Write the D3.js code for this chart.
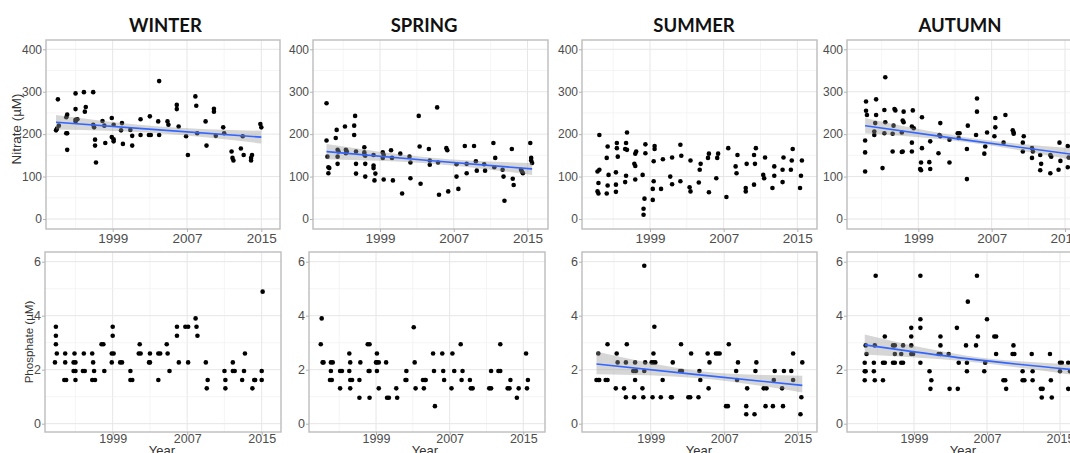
<!DOCTYPE html>
<html>
<head>
<meta charset="utf-8">
<script src="https://cdn.jsdelivr.net/npm/d3@7"></script>
<style>
body { margin: 0; background: #fff; }
svg { display: block; font-family: "Liberation Sans", Arial, sans-serif; }
</style>
</head>
<body>
<svg width="1070" height="453"></svg>
<script>
// ---- data ----
let seasons = ["WINTER", "SPRING", "SUMMER", "AUTUMN"];
let yearTicks = [1999, 2007, 2015];
let yearMinor = [1995, 2003, 2011];
let nitrateTicks = [0, 100, 200, 300, 400];
let nitrateMinor = [50, 150, 250, 350];
let phosphateTicks = [0, 2, 4, 6];
let phosphateMinor = [1, 3, 5];

// [year, nitrate µM]
let winterNitrate = [
  [1993.1,282],[1992.9,209],[1993.0,213],[1993.2,220],
  [1994.0,240],[1994.1,246],[1994.0,202],[1994.1,202],[1994.1,163],
  [1995.0,296],[1995.0,259],[1995.0,234],[1995.2,235],[1995.0,230],
  [1995.9,299],[1996.1,264],[1996.0,253],
  [1996.9,299],[1996.9,222],[1997.0,216],[1997.1,187],[1997.1,173],[1997.2,133],
  [1997.9,231],[1998.1,220],[1998.2,179],
  [1998.9,238],[1999.1,222],[1998.9,193],[1999.1,188],[1999.1,183],
  [2000.0,226],[1999.9,209],[2000.1,177],
  [2000.9,210],[2001.1,196],[2001.1,173],
  [2002.0,235],[2002.0,198],
  [2003.0,242],[2002.9,198],[2003.1,198],
  [2004.0,325],[2003.9,230],[2004.0,198],
  [2004.9,230],[2005.0,222],
  [2005.9,269],[2005.9,259],[2006.1,218],
  [2006.9,195],[2007.1,151],
  [2007.9,289],[2008.0,267],[2008.1,202],
  [2009.0,230],[2009.1,173],
  [2009.9,260],[2009.9,253],[2010.1,196],
  [2010.9,216],[2011.0,202],
  [2011.8,159],[2011.9,144],[2012.0,138],
  [2012.8,166],[2013.0,195],[2013.1,151],
  [2014.0,151],[2013.9,144],[2013.9,138],
  [2014.9,224],[2015.0,216]
];
let springNitrate = [
  [1993.2,273],[1993.2,185],[1993.3,147],[1993.4,122],[1993.5,120],[1993.4,108],
  [1994.2,191],[1994.3,210],[1994.4,163],[1994.4,147],[1994.4,130],[1994.5,159],
  [1995.2,218],[1995.3,163],[1995.3,155],[1995.4,159],
  [1996.3,243],[1996.2,220],[1996.2,198],[1996.4,159],[1996.4,130],[1996.4,107],
  [1997.3,169],[1997.3,157],[1997.4,149],[1997.4,130],[1997.4,100],[1997.3,152],
  [1998.3,151],[1998.3,126],[1998.3,120],[1998.5,107],[1998.4,91],
  [1999.3,157],[1999.4,151],[1999.3,144],[1999.4,93],
  [2000.2,162],[2000.3,144],[2000.4,91],
  [2001.2,154],[2001.4,60],
  [2002.2,147],[2002.3,133],[2002.3,96],
  [2003.2,243],[2003.3,171],[2003.4,83],
  [2004.3,165],[2004.4,138],[2004.4,128],
  [2005.2,263],[2005.3,133],[2005.4,57],
  [2006.2,167],[2006.3,162],[2006.4,65],
  [2007.3,129],[2007.3,100],[2007.5,71],
  [2008.2,172],[2008.4,130],[2008.4,108],
  [2009.2,172],[2009.4,136],[2009.5,114],
  [2010.3,129],[2010.4,114],
  [2011.3,179],[2011.5,144],[2011.4,122],
  [2012.3,116],[2012.4,100],[2012.5,43],
  [2013.3,165],[2013.4,95],[2013.5,80],
  [2014.3,116],[2014.4,112],[2014.5,108],
  [2015.3,179],[2015.4,144],[2015.4,138],[2015.5,132]
];
let summerNitrate = [
  [1993.5,198],[1993.3,112],[1993.5,116],[1993.4,85],[1993.3,65],[1993.4,60],
  [1994.4,171],[1994.3,144],[1994.5,104],[1994.4,79],[1994.3,60],
  [1995.4,179],[1995.4,167],[1995.5,147],[1995.3,110],[1995.3,81],[1995.3,64],
  [1996.5,204],[1996.4,179],[1996.3,165],[1996.5,163],[1996.4,102],[1996.3,87],
  [1997.5,159],[1997.4,154],[1997.3,130],[1997.4,125],[1997.4,93],
  [1998.5,176],[1998.5,155],[1998.2,104],[1998.4,48],[1998.3,24],[1998.3,10],
  [1999.5,172],[1999.5,165],[1999.4,136],[1999.4,89],[1999.3,71],[1999.3,45],
  [2000.4,141],[2000.2,71],
  [2001.4,145],[2001.2,100],[2001.4,82],
  [2002.3,175],[2002.4,149],[2002.3,89],
  [2003.4,138],[2003.3,75],[2003.4,65],
  [2004.5,130],[2004.4,116],[2004.3,86],
  [2005.4,154],[2005.3,144],[2005.4,63],
  [2006.4,154],[2006.3,144],[2006.2,96],
  [2007.5,167],[2007.3,52],
  [2008.5,151],[2008.3,124],[2008.4,108],
  [2009.5,130],[2009.4,73],[2009.4,65],
  [2010.5,167],[2010.3,151],[2010.4,130],[2010.3,81],
  [2011.5,145],[2011.3,104],[2011.4,96],
  [2012.5,124],[2012.5,102],[2012.3,73],
  [2013.5,145],[2013.4,116],[2013.4,87],
  [2014.5,165],[2014.4,138],[2014.3,116],
  [2015.5,138],[2015.4,102],[2015.3,73]
];
let autumnNitrate = [
  [1993.3,277],[1993.3,255],[1993.4,245],[1993.2,185],[1993.2,157],[1993.2,112],
  [1994.4,282],[1994.4,245],[1994.3,226],[1994.2,206],[1994.2,198],
  [1995.4,334],[1995.3,257],[1995.4,228],[1995.3,202],[1995.1,120],
  [1996.4,259],[1996.5,256],[1996.3,220],[1996.2,201],[1996.2,159],
  [1997.4,253],[1997.3,232],[1997.4,228],[1997.2,204],[1997.3,159],[1997.2,158],
  [1998.4,256],[1998.3,218],[1998.5,214],[1998.3,180],[1998.3,159],
  [1999.4,240],[1999.4,167],[1999.3,133],[1999.3,115],[1999.2,118],
  [2000.3,183],[2000.2,134],[2000.3,118],
  [2001.4,226],[2001.3,198],[2001.4,195],[2001.2,155],
  [2002.4,187],[2002.4,133],
  [2003.3,202],[2003.5,202],[2003.4,191],
  [2004.4,220],[2004.3,165],[2004.3,94],
  [2005.4,284],[2005.4,253],[2005.3,198],
  [2006.5,204],[2006.3,171],[2006.2,154],
  [2007.4,238],[2007.4,216],[2007.3,195],
  [2008.5,245],[2008.3,180],
  [2009.3,209],[2009.4,204],[2009.4,201],
  [2010.5,195],[2010.4,180],[2010.4,159],
  [2011.4,167],[2011.5,159],[2011.4,144],
  [2012.3,151],[2012.4,130],[2012.3,115],
  [2013.4,151],[2013.5,147],[2013.4,108],
  [2014.4,180],[2014.5,137],[2014.3,116],
  [2015.3,172],[2015.4,145],[2015.3,122]
];

// [year, phosphate µM]
let winterPhosphate = [
  [1992.8,2.27],[1992.9,3.59],[1992.9,3.26],[1992.9,2.94],[1993.0,2.6],
  [1993.9,2.6],[1993.9,2.27],[1993.8,1.62],[1994.0,1.62],
  [1994.9,2.6],[1994.8,2.27],[1995.0,2.27],[1994.8,1.95],[1995.0,1.95],[1995.0,1.62],
  [1995.8,1.95],[1996.0,1.95],[1995.9,2.6],
  [1996.8,2.6],[1996.9,2.27],[1997.0,1.95],[1996.8,1.62],[1997.1,1.62],
  [1997.8,2.94],[1998.0,2.94],[1998.1,1.95],
  [1999.0,3.59],[1999.0,3.26],[1998.9,2.6],[1999.1,2.6],[1998.9,2.27],
  [1999.8,2.27],[2000.0,2.27],
  [2000.9,1.95],[2000.9,1.62],[2001.1,1.62],
  [2001.9,2.94],[2001.8,2.6],[2002.0,2.6],
  [2002.9,2.27],[2003.0,2.27],[2003.0,2.6],
  [2003.9,2.6],[2004.1,2.6],[2003.9,1.62],
  [2004.8,2.94],[2004.9,2.6],[2005.1,1.95],
  [2005.9,3.59],[2005.9,3.26],[2006.1,2.27],
  [2006.8,3.59],[2007.1,3.59],[2007.1,2.27],
  [2007.9,3.9],[2008.0,3.59],[2008.1,3.26],
  [2009.0,2.27],[2009.2,1.62],[2009.1,1.31],
  [2011.0,1.95],[2011.1,1.62],[2011.1,1.31],
  [2011.9,2.27],[2011.9,1.95],[2012.1,1.95],
  [2013.2,2.6],[2013.1,1.95],[2012.9,1.62],
  [2014.2,1.62],[2014.3,1.62],[2014.0,1.31],
  [2015.1,4.89],[2015.0,1.95],[2015.0,1.62]
];
let springPhosphate = [
  [1993.1,3.9],[1993.0,2.94],[1993.2,2.27],[1993.3,2.27],
  [1994.1,2.27],[1994.3,2.27],[1994.1,1.95],[1994.0,1.62],[1994.2,1.62],
  [1995.1,1.95],[1995.3,1.95],[1995.1,1.31],
  [1996.1,2.6],[1996.2,2.27],[1996.1,1.95],[1996.2,1.62],[1996.4,1.62],[1996.2,1.31],
  [1997.3,2.27],[1997.2,1.62],[1997.2,0.96],
  [1998.1,2.94],[1998.3,2.94],[1998.2,1.95],[1998.3,1.95],[1998.3,0.96],
  [1999.1,2.6],[1999.0,2.27],[1999.1,2.27],[1999.3,2.27],[1999.1,1.95],[1999.3,1.31],
  [2000.1,2.27],[2000.2,0.96],[2000.4,0.96],
  [2001.2,1.31],[2001.3,0.96],
  [2002.2,1.62],[2002.3,1.62],[2002.3,1.95],
  [2003.1,3.57],[2003.2,2.27],[2003.3,1.31],
  [2004.1,1.62],[2004.3,1.62],[2004.4,1.62],[2004.2,1.31],
  [2005.2,2.6],[2005.3,1.95],[2005.4,0.65],
  [2006.2,2.6],[2006.3,1.95],[2006.4,1.62],
  [2007.3,2.6],[2007.5,1.95],[2007.2,1.31],
  [2008.2,2.94],[2008.4,1.95],[2008.3,1.62],
  [2009.2,1.62],[2009.3,1.31],[2009.5,1.31],
  [2011.5,1.95],[2011.3,1.31],[2011.5,1.31],
  [2012.5,2.94],[2012.3,1.95],[2012.5,1.95],
  [2013.6,1.62],[2013.3,1.31],[2013.5,1.31],
  [2014.3,0.96],[2014.5,1.31],
  [2015.3,2.6],[2015.5,1.62],[2015.4,1.31]
];
let summerPhosphate = [
  [1993.3,2.6],[1993.1,1.62],[1993.3,1.62],[1993.4,1.62],
  [1994.3,2.94],[1994.1,1.62],[1994.3,1.62],
  [1995.3,2.6],[1995.4,2.27],[1995.2,1.31],
  [1996.4,2.94],[1996.3,2.27],[1996.1,1.31],[1996.3,0.98],
  [1997.3,2.27],[1997.1,1.95],[1997.3,1.95],[1997.4,1.95],[1997.3,1.62],[1997.2,0.98],
  [1998.3,5.85],[1998.4,2.27],[1998.3,1.95],[1998.1,1.31],[1998.2,0.98],
  [1999.4,3.59],[1999.3,2.6],[1999.1,2.27],[1999.3,2.27],[1999.5,2.27],[1999.2,0.98],
  [2000.3,1.62],[2000.1,0.98],
  [2001.4,2.27],[2001.2,0.98],[2001.3,0.98],
  [2002.3,2.94],[2002.2,1.95],[2002.4,1.95],
  [2003.4,2.6],[2003.1,0.98],[2003.3,0.98],
  [2004.3,1.95],[2004.4,1.62],[2004.2,0.98],
  [2005.2,2.6],[2005.4,2.27],[2005.3,1.31],
  [2006.1,2.6],[2006.3,2.6],[2006.5,2.6],
  [2007.5,2.94],[2007.2,0.65],[2007.4,0.65],
  [2008.5,2.27],[2008.3,1.95],[2008.4,1.62],
  [2009.5,1.31],[2009.4,0.65],[2009.4,0.35],
  [2010.5,2.27],[2010.4,1.95],[2010.3,0.35],
  [2011.3,1.31],[2011.6,1.31],[2011.5,0.65],
  [2012.5,1.95],[2012.4,1.62],[2012.3,0.65],
  [2013.5,1.95],[2013.3,1.31],[2013.4,0.65],
  [2014.5,2.6],[2014.3,1.95],[2014.5,1.62],
  [2015.5,2.27],[2015.4,0.98],[2015.3,0.35]
];
let autumnPhosphate = [
  [1993.7,2.9],[1993.8,2.58],[1993.6,2.26],[1993.6,1.94],[1993.7,1.94],[1993.6,1.61],
  [1994.8,5.48],[1994.7,2.9],[1994.6,2.26],[1994.6,1.94],[1994.7,1.61],
  [1995.8,3.23],[1995.6,2.26],[1995.8,2.26],[1995.6,1.61],
  [1996.7,2.9],[1996.9,2.9],[1996.9,2.58],[1996.7,2.26],[1996.9,2.26],
  [1997.8,2.9],[1997.6,2.58],[1997.6,2.26],[1997.8,2.26],
  [1998.7,3.55],[1998.7,3.23],[1998.7,2.9],[1998.7,2.58],[1998.9,2.58],
  [1999.7,5.48],[1999.7,3.87],[1999.7,3.55],[1999.7,2.26],
  [2000.7,1.94],[2000.9,1.61],[2000.8,1.29],
  [2001.9,3.23],[2001.9,2.9],[2001.7,2.58],[2001.9,2.58],
  [2002.8,2.58],[2002.9,1.29],
  [2003.7,3.55],[2003.9,2.26],[2003.8,1.29],
  [2004.9,4.52],[2004.7,2.9],[2004.8,2.26],[2004.8,1.94],
  [2005.9,5.48],[2006.0,3.23],[2005.8,2.9],
  [2007.0,3.87],[2006.8,2.26],[2006.7,1.94],
  [2007.8,3.23],[2008.0,3.23],[2008.0,2.58],
  [2008.8,1.61],[2009.0,1.61],[2009.1,1.29],
  [2009.9,2.9],[2009.8,2.58],[2010.0,2.58],
  [2010.9,1.94],[2010.9,1.61],[2011.1,1.61],
  [2011.9,2.58],[2012.0,1.94],[2012.0,1.61],
  [2012.9,1.29],[2013.1,1.29],[2013.0,0.97],
  [2013.9,2.58],[2014.0,1.61],[2014.1,0.97],
  [2015.0,2.26],[2015.2,2.26],[2015.0,1.94],
  [2015.9,2.26],[2016.1,1.94],[2015.9,1.29]
];

// fitted trend with confidence band: [year, fit, lower, upper]
let winterNitrateTrend = [[1992.9,228,211,245],[2004,210,202,218],[2015,193,178,208]];
let springNitrateTrend = [[1993.2,159,141,177],[2004.3,138,131,145],[2015.5,118,104,132]];
let autumnNitrateTrend = [[1993.2,220,202,238],[2004.3,186,181,192],[2015.6,153,140,167]];
let summerPhosphateTrend = [[1993.1,2.21,1.83,2.67],[2004.3,1.81,1.68,1.95],[2015.5,1.42,1.16,1.78]];
let autumnPhosphateTrend = [[1993.6,2.92,2.56,3.3],[2004.8,2.41,2.3,2.52],[2016.1,2.01,1.82,2.2]];

// ---- layout ----
let svg = d3.select('svg');

let rows = [
  { top: 40, bottom: 229, yRange: [219, 49.3], domain: [0, 400], ticks: nitrateTicks, minor: nitrateMinor,
    yFont: 12, xFont: 13.5, xPad: 1 },
  { top: 252, bottom: 432, yRange: [423.7, 261.7], domain: [0, 6], ticks: phosphateTicks, minor: phosphateMinor,
    yFont: 12.5, xFont: 12.5, xPad: -0.5 }
];

let panels = [
  { row: 0, left: 46,  right: 280,  x0: 112.7, x1: 261.3, pts: winterNitrate, trend: winterNitrateTrend },
  { row: 0, left: 313, right: 548,  x0: 380,   x1: 527.5, pts: springNitrate, trend: springNitrateTrend },
  { row: 0, left: 582, right: 817,  x0: 650,   x1: 797.3, pts: summerNitrate, trend: null },
  { row: 0, left: 847, right: 1085, x0: 918.3, x1: 1065,  pts: autumnNitrate, trend: autumnNitrateTrend },
  { row: 1, left: 45,  right: 281,  x0: 112.7, x1: 261.7, pts: winterPhosphate, trend: null },
  { row: 1, left: 309, right: 545,  x0: 376,   x1: 523.3, pts: springPhosphate, trend: null },
  { row: 1, left: 582, right: 817,  x0: 650.7, x1: 797.7, pts: summerPhosphate, trend: summerPhosphateTrend },
  { row: 1, left: 847, right: 1085, x0: 914,   x1: 1060,  pts: autumnPhosphate, trend: autumnPhosphateTrend }
];

let titleX = [165.5, 424, 694, 960];
let yearLabelX = [162, 425, 699, 963];

let drawPanel = (p) => {
  let r = rows[p.row];
  let xScale = d3.scaleLinear().domain([1999, 2015]).range([p.x0, p.x1]);
  let yScale = d3.scaleLinear().domain(r.domain).range(r.yRange);
  let g = svg.append('g');

  g.append('rect')
    .attr('x', p.left).attr('y', r.top)
    .attr('width', p.right - p.left).attr('height', r.bottom - r.top)
    .attr('fill', '#fff');

  // grid
  let inX = yearMinor.concat(yearTicks).filter(v => xScale(v) > p.left && xScale(v) < p.right);
  g.selectAll('.vgrid')
    .data(inX)
    .enter()
    .append('line')
    .attr('x1', d => xScale(d)).attr('x2', d => xScale(d))
    .attr('y1', r.top).attr('y2', r.bottom)
    .attr('stroke', d => yearTicks.includes(d) ? '#e6e6e6' : '#f0f0f0')
    .attr('stroke-width', d => yearTicks.includes(d) ? 1 : 0.7);
  g.selectAll('.hgrid')
    .data(r.minor.concat(r.ticks))
    .enter()
    .append('line')
    .attr('x1', p.left).attr('x2', p.right)
    .attr('y1', d => yScale(d)).attr('y2', d => yScale(d))
    .attr('stroke', d => r.ticks.includes(d) ? '#e6e6e6' : '#f0f0f0')
    .attr('stroke-width', d => r.ticks.includes(d) ? 1 : 0.7);

  // points
  g.selectAll('circle')
    .data(p.pts)
    .enter()
    .append('circle')
    .attr('cx', d => xScale(d[0]))
    .attr('cy', d => yScale(d[1]))
    .attr('r', 2.3)
    .attr('fill', '#000');

  // trend + band
  if (p.trend) {
    let band = d3.area()
      .x(d => xScale(d[0]))
      .y0(d => yScale(d[2]))
      .y1(d => yScale(d[3]))
      .curve(d3.curveNatural);
    let line = d3.line()
      .x(d => xScale(d[0]))
      .y(d => yScale(d[1]))
      .curve(d3.curveNatural);
    g.append('path').attr('d', band(p.trend))
      .attr('fill', '#999').attr('fill-opacity', 0.4);
    g.append('path').attr('d', line(p.trend))
      .attr('fill', 'none').attr('stroke', '#3366ff').attr('stroke-width', 1.6);
  }

  // border
  g.append('rect')
    .attr('x', p.left).attr('y', r.top)
    .attr('width', p.right - p.left).attr('height', r.bottom - r.top)
    .attr('fill', 'none').attr('stroke', '#bdbdbd').attr('stroke-width', 1.4);

  // axes
  let xAxis = d3.axisBottom(xScale).tickValues(yearTicks).tickFormat(d3.format('d'))
    .tickSize(3).tickPadding(r.xPad);
  let yAxis = d3.axisLeft(yScale).tickValues(r.ticks).tickFormat(d3.format('d'))
    .tickSize(3).tickPadding(1);

  let xg = g.append('g')
    .attr('transform', 'translate(0,' + r.bottom + ')')
    .call(xAxis);
  let yg = g.append('g')
    .attr('transform', 'translate(' + p.left + ',0)')
    .call(yAxis);
  [xg, yg].forEach(a => {
    a.select('.domain').remove();
    a.selectAll('.tick line').attr('stroke', '#b3b3b3');
    a.selectAll('.tick text').attr('fill', '#4d4d4d')
      .style('font-family', '"Liberation Sans", Arial, sans-serif');
  });
  xg.selectAll('.tick text').style('font-size', r.xFont + 'px');
  yg.selectAll('.tick text').style('font-size', r.yFont + 'px');
};

panels.forEach(drawPanel);

// titles
svg.selectAll('.title')
  .data(seasons)
  .enter()
  .append('text')
  .attr('x', (d, i) => titleX[i])
  .attr('y', 32)
  .attr('text-anchor', 'middle')
  .style('font-family', 'Lato, "Open Sans", sans-serif')
  .style('font-weight', 'bold')
  .style('font-size', '18.5px')
  .attr('fill', '#111')
  .text(d => d);

// axis titles
svg.append('text')
  .attr('transform', 'translate(21,129) rotate(-90)')
  .attr('text-anchor', 'middle')
  .style('font-size', '13.4px')
  .attr('fill', '#333')
  .text('Nitrate (µM)');

svg.append('text')
  .attr('transform', 'translate(33,342) rotate(-90)')
  .attr('text-anchor', 'middle')
  .style('font-size', '11.6px')
  .attr('fill', '#333')
  .text('Phosphate (µM)');

svg.selectAll('.yearlab')
  .data(yearLabelX)
  .enter()
  .append('text')
  .attr('x', d => d)
  .attr('y', 455)
  .attr('text-anchor', 'middle')
  .style('font-size', '13px')
  .attr('fill', '#333')
  .text('Year');
</script>
</body>
</html>
